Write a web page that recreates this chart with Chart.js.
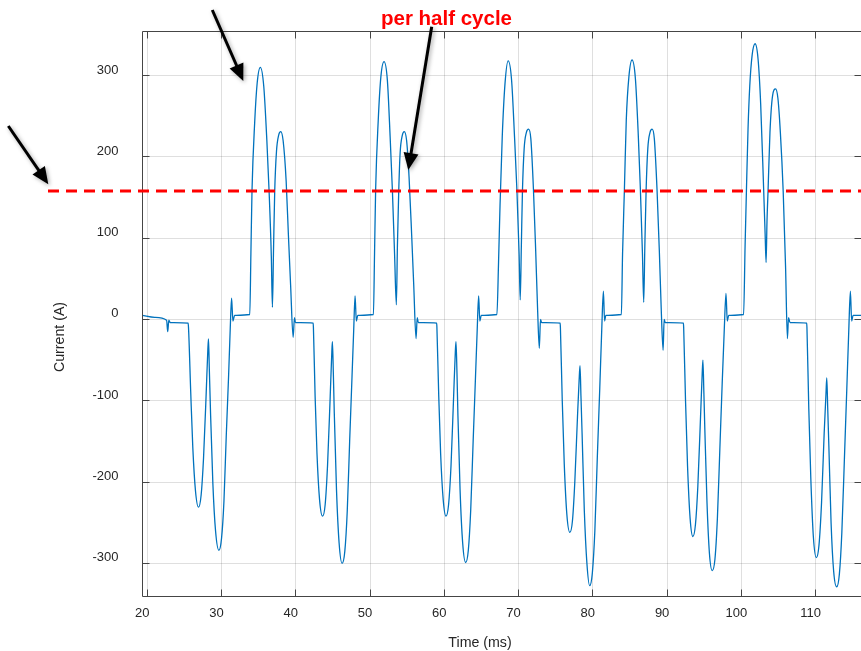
<!DOCTYPE html>
<html>
<head>
<meta charset="utf-8">
<script src="https://cdn.jsdelivr.net/npm/chart.js@4.4.1/dist/chart.umd.min.js"></script>
<style>
  html, body { margin: 0; padding: 0; background: #ffffff; }
  #wrap { width: 861px; height: 651px; position: relative; }
</style>
</head>
<body>
<div id="wrap"><canvas id="c" width="861" height="651"></canvas></div>
<script>
// ---------- data ----------
const timeMs = [
  19.3, 21.0, 22.6, 22.75, 22.9, 23.1, 25.5,
  25.55, 25.85, 26.13, 26.49, 26.9, 27.25, 27.57, 27.93, 28.15, 28.24, 28.35, 28.51, 28.83, 29.19, 29.64, 30.0, 30.32, 30.63, 30.95, 31.17, 31.35, 31.53, 31.76, 33.8,
  33.95, 34.1, 34.46, 34.8, 35.22, 35.68, 36.1, 36.4, 36.7, 36.85, 37.0, 37.16, 37.4, 37.7, 37.97, 38.29, 38.7, 39.0, 39.3, 39.64, 39.82, 39.95, 42.34,
  42.37, 42.6, 42.85, 43.2, 43.6, 43.95, 44.27, 44.63, 44.85, 44.93, 45.05, 45.18, 45.48, 45.83, 46.23, 46.6, 46.93, 47.25, 47.57, 47.8, 47.98, 48.15, 48.35, 50.45,
  50.6, 50.75, 51.1, 51.45, 51.88, 52.33, 52.7, 53.0, 53.3, 53.54, 53.68, 53.86, 54.05, 54.33, 54.6, 54.92, 55.25, 55.6, 55.88, 56.19, 56.35, 56.5, 58.97,
  59.0, 59.25, 59.5, 59.85, 60.22, 60.57, 60.9, 61.25, 61.48, 61.57, 61.7, 61.83, 62.12, 62.47, 62.87, 63.23, 63.55, 63.88, 64.2, 64.43, 64.62, 64.78, 64.98, 67.08,
  67.3, 67.5, 67.8, 68.17, 68.6, 69.05, 69.45, 69.77, 70.07, 70.22, 70.37, 70.52, 70.75, 71.05, 71.35, 71.65, 72.0, 72.3, 72.55, 72.79, 72.95, 73.1, 75.6,
  75.63, 75.88, 76.15, 76.5, 76.9, 77.25, 77.57, 77.93, 78.15, 78.27, 78.4, 78.55, 78.85, 79.2, 79.57, 79.93, 80.27, 80.6, 80.93, 81.2, 81.42, 81.58, 81.75, 83.84,
  84.0, 84.25, 84.5, 84.85, 85.28, 85.73, 86.12, 86.4, 86.68, 86.85, 87.0, 87.17, 87.4, 87.7, 87.98, 88.28, 88.65, 88.95, 89.2, 89.46, 89.6, 89.75, 92.2,
  92.23, 92.48, 92.75, 93.1, 93.47, 93.82, 94.14, 94.5, 94.72, 94.82, 94.95, 95.08, 95.37, 95.7, 96.08, 96.44, 96.77, 97.1, 97.42, 97.7, 97.93, 98.1, 98.3, 100.3,
  100.5, 100.68, 100.9, 101.13, 101.45, 101.85, 102.25, 102.6, 103.0, 103.2, 103.33, 103.45, 103.6, 103.85, 104.2, 104.6, 104.92, 105.25, 105.63, 105.95, 106.2, 106.35, 106.55, 108.8,
  108.83, 109.08, 109.35, 109.7, 110.1, 110.45, 110.8, 111.15, 111.4, 111.5, 111.63, 111.78, 112.08, 112.43, 112.84, 113.2, 113.53, 113.88, 114.2, 114.47, 114.68, 114.85, 115.05, 116.3
];
const currentA = [
  5, 2.5, -1, -15, -1, -4, -4.5,
  -10, -90, -158, -211, -231, -216, -171, -91, -38, -24, -60, -113, -202, -260, -284, -269, -224, -144, -69, -11, 26, -2, 5, 6,
  80, 158, 242, 291, 310, 287, 220, 158, 78, 15, 87, 158, 207, 227, 231, 220, 170, 104, 42, -22, 2, -4, -4.5,
  -10, -95, -165, -222, -242, -228, -180, -95, -40, -27.5, -65, -115, -210, -275, -300, -285, -235, -150, -70, -12, 29, -2, 5, 6,
  80, 160, 245, 298, 317, 294, 225, 160, 80, 18, 90, 158, 205, 226, 231, 220, 175, 104, 42, -23.5, 2, -4, -4.5,
  -10, -95, -165, -222, -242, -228, -180, -95, -40, -27.5, -65, -118, -210, -275, -299, -284, -235, -150, -70, -12, 29, -2, 5, 6,
  70, 140, 225, 290, 318, 295, 225, 160, 80, 24, 90, 158, 210, 230, 234, 222, 160, 85, 15, -35.5, 0, -4, -4.5,
  -10, -100, -178, -240, -262, -248, -200, -120, -75, -57, -95, -140, -235, -300, -327.5, -312, -260, -170, -85, -12, 34.7, -2, 5, 6,
  80, 160, 245, 298, 319, 296, 226, 160, 80, 21, 90, 158, 210, 230, 234, 222, 158, 85, 15, -38, 0, -4, -4.5,
  -10, -100, -180, -245, -267, -252, -205, -120, -68, -50, -90, -135, -225, -288, -309, -295, -245, -160, -78, -12, 32, -2, 5, 6,
  90, 158, 235, 287, 325, 339, 320, 265, 160, 105, 70, 120, 160, 230, 275, 283.5, 272, 230, 158, 65, -23.5, 2, -4, -4.5,
  -10, -110, -195, -268, -293, -278, -225, -140, -90, -72, -110, -155, -250, -310, -329, -313, -262, -170, -85, -12, 34.7, -2, 5, 5
];
const xTickValues = [20, 30, 40, 50, 60, 70, 80, 90, 100, 110];
const yTickValues = [-300, -200, -100, 0, 100, 200, 300];
const thresholdA = 158;
const xAxisTitle = 'Time (ms)';
const yAxisTitle = 'Current (A)';
const noteText = 'per half cycle';

// ---------- chart ----------
Chart.defaults.font.family = "'Liberation Sans', Arial, Helvetica, sans-serif";

function drawArrow(ctx, x1, y1, x2, y2, w, headLen, headW) {
  const ang = Math.atan2(y2 - y1, x2 - x1);
  const c = Math.cos(ang), s = Math.sin(ang);
  const bx = x2 - headLen * c, by = y2 - headLen * s;
  ctx.lineWidth = w;
  ctx.beginPath(); ctx.moveTo(x1, y1); ctx.lineTo(bx + 2 * c, by + 2 * s); ctx.stroke();
  ctx.beginPath();
  ctx.moveTo(x2, y2);
  ctx.lineTo(bx + headW / 2 * s, by - headW / 2 * c);
  ctx.lineTo(bx - headW / 2 * s, by + headW / 2 * c);
  ctx.closePath(); ctx.fill();
}

const framePlugin = {
  id: 'frame',
  afterDatasetsDraw(chart) {
    const { ctx, chartArea: a, scales: { x, y } } = chart;
    const L = Math.floor(a.left) + 0.5, R = Math.floor(a.right) + 0.5;
    const T = Math.floor(a.top) + 0.5, B = Math.floor(a.bottom) + 0.5;
    const tl = 7;
    ctx.save();
    ctx.strokeStyle = '#454545';
    ctx.lineWidth = 1;
    ctx.beginPath();
    ctx.moveTo(L, T); ctx.lineTo(R, T);
    ctx.moveTo(L, B); ctx.lineTo(R, B);
    ctx.moveTo(L, T); ctx.lineTo(L, B);
    ctx.moveTo(R, T); ctx.lineTo(R, B);
    xTickValues.forEach(v => {
      const px = Math.floor(x.getPixelForValue(v)) + 0.5;
      ctx.moveTo(px, B); ctx.lineTo(px, B - tl);
      ctx.moveTo(px, T); ctx.lineTo(px, T + tl);
    });
    yTickValues.forEach(v => {
      const py = Math.floor(y.getPixelForValue(v)) + 0.5;
      ctx.moveTo(L, py); ctx.lineTo(L + tl, py);
      ctx.moveTo(R, py); ctx.lineTo(R - tl, py);
    });
    ctx.stroke();
    ctx.restore();
  },
  afterDraw(chart) {
    const { ctx, chartArea: a, scales: { y } } = chart;
    ctx.save();
    // axis titles
    ctx.fillStyle = '#262626';
    ctx.font = "14.2px 'Liberation Sans', Arial, sans-serif";
    ctx.textAlign = 'center';
    ctx.textBaseline = 'middle';
    ctx.fillText(xAxisTitle, 480, 643);
    ctx.save();
    ctx.translate(60, 337);
    ctx.rotate(-Math.PI / 2);
    ctx.fillText(yAxisTitle, 0, 0);
    ctx.restore();

    // red dashed threshold line
    const ty = y.getPixelForValue(thresholdA);
    ctx.strokeStyle = '#ff0000';
    ctx.lineWidth = 3;
    ctx.setLineDash([11, 7]);
    ctx.beginPath(); ctx.moveTo(48, ty); ctx.lineTo(a.right, ty); ctx.stroke();
    ctx.setLineDash([]);

    // note text
    ctx.fillStyle = '#ff0000';
    ctx.font = "bold 20.5px 'Liberation Sans', Arial, sans-serif";
    ctx.textAlign = 'center';
    ctx.textBaseline = 'alphabetic';
    ctx.fillText(noteText, 446.5, 25);

    // arrows
    ctx.strokeStyle = '#000000';
    ctx.fillStyle = '#000000';
    ctx.lineCap = 'butt';
    ctx.shadowColor = 'rgba(0,0,0,0.35)';
    ctx.shadowBlur = 4;
    ctx.shadowOffsetX = 1.5;
    ctx.shadowOffsetY = 1.5;
    drawArrow(ctx, 8.3, 126, 48.3, 184.3, 3, 17, 15);
    drawArrow(ctx, 212.3, 10, 243.3, 81, 3, 17, 15);
    drawArrow(ctx, 431.7, 26.7, 408.3, 170, 3, 17, 15);
    ctx.restore();
  }
};

const points = timeMs.map((t, i) => ({ x: t, y: currentA[i] }));

new Chart(document.getElementById('c'), {
  type: 'line',
  data: {
    datasets: [{
      label: 'Current',
      data: points,
      borderColor: '#0072BD',
      borderWidth: 1.3,
      pointRadius: 0,
      fill: false,
      cubicInterpolationMode: 'monotone'
    }]
  },
  options: {
    responsive: false,
    animation: false,
    events: [],
    layout: { padding: { top: 31, right: 0, bottom: 0, left: 0 } },
    plugins: { legend: { display: false }, tooltip: { enabled: false }, title: { display: false } },
    scales: {
      x: {
        type: 'linear',
        min: 19.354,
        max: 116.11,
        afterBuildTicks: s => { s.ticks = xTickValues.map(v => ({ value: v })); },
        afterFit: s => { s.height = 55; },
        ticks: {
          autoSkip: false, maxRotation: 0, minRotation: 0,
          labelOffset: -5, padding: 10,
          color: '#262626', font: { size: 13 },
          callback: v => String(v)
        },
        grid: { color: 'rgba(38,38,38,0.15)', lineWidth: 1, drawTicks: false },
        border: { display: false }
      },
      y: {
        type: 'linear',
        min: -340.2,
        max: 353.7,
        afterBuildTicks: s => { s.ticks = yTickValues.map(v => ({ value: v })); },
        afterFit: s => { s.width = 142.5; },
        ticks: {
          autoSkip: false,
          labelOffset: -5.5, padding: 24,
          color: '#262626', font: { size: 13 },
          callback: v => String(v)
        },
        grid: { color: 'rgba(38,38,38,0.15)', lineWidth: 1, drawTicks: false },
        border: { display: false }
      }
    }
  },
  plugins: [framePlugin]
});
</script>
</body>
</html>
